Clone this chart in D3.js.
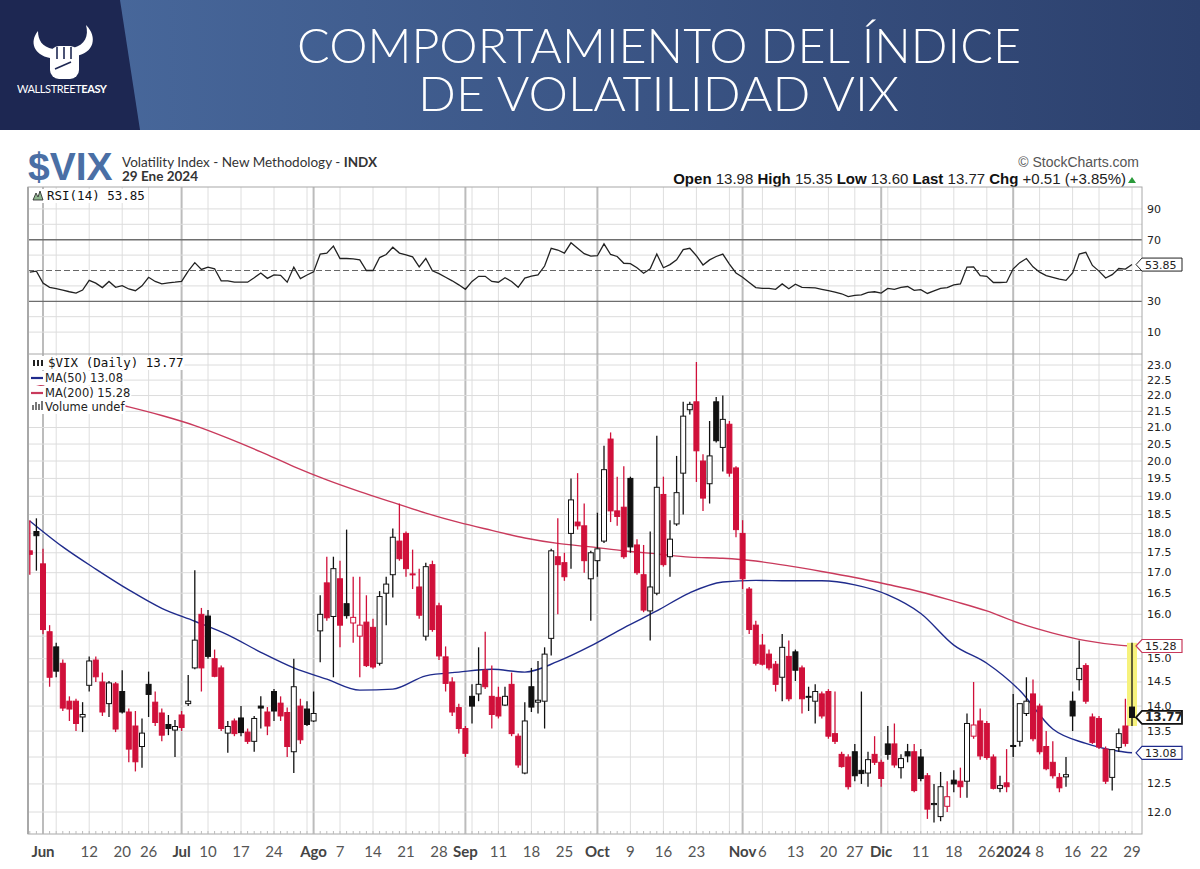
<!DOCTYPE html>
<html>
<head>
<meta charset="utf-8" />
<title>Comportamiento del índice de volatilidad VIX</title>
<script src="https://d3js.org/d3.v7.min.js"></script>
<style>
  body { margin: 0; background: #fff; }
  svg { display: block; }
  .mono { font-family: "DejaVu Sans Mono", monospace; }
  .axis { font-family: "DejaVu Sans", Verdana, sans-serif; font-size: 11px; fill: #222; }
</style>
</head>
<body>
<svg id="chart" width="1200" height="869"></svg>
<script>
// ---- data ----
var dates = [
  "2023-05-30","2023-05-31",
  "2023-06-01","2023-06-02","2023-06-05","2023-06-06","2023-06-07","2023-06-08","2023-06-09","2023-06-12","2023-06-13","2023-06-14","2023-06-15","2023-06-16","2023-06-20","2023-06-21","2023-06-22","2023-06-23","2023-06-26","2023-06-27","2023-06-28","2023-06-29","2023-06-30",
  "2023-07-03","2023-07-05","2023-07-06","2023-07-07","2023-07-10","2023-07-11","2023-07-12","2023-07-13","2023-07-14","2023-07-17","2023-07-18","2023-07-19","2023-07-20","2023-07-21","2023-07-24","2023-07-25","2023-07-26","2023-07-27","2023-07-28","2023-07-31",
  "2023-08-01","2023-08-02","2023-08-03","2023-08-04","2023-08-07","2023-08-08","2023-08-09","2023-08-10","2023-08-11","2023-08-14","2023-08-15","2023-08-16","2023-08-17","2023-08-18","2023-08-21","2023-08-22","2023-08-23","2023-08-24","2023-08-25","2023-08-28","2023-08-29","2023-08-30","2023-08-31",
  "2023-09-01","2023-09-05","2023-09-06","2023-09-07","2023-09-08","2023-09-11","2023-09-12","2023-09-13","2023-09-14","2023-09-15","2023-09-18","2023-09-19","2023-09-20","2023-09-21","2023-09-22","2023-09-25","2023-09-26","2023-09-27","2023-09-28","2023-09-29",
  "2023-10-02","2023-10-03","2023-10-04","2023-10-05","2023-10-06","2023-10-09","2023-10-10","2023-10-11","2023-10-12","2023-10-13","2023-10-16","2023-10-17","2023-10-18","2023-10-19","2023-10-20","2023-10-23","2023-10-24","2023-10-25","2023-10-26","2023-10-27","2023-10-30","2023-10-31",
  "2023-11-01","2023-11-02","2023-11-03","2023-11-06","2023-11-07","2023-11-08","2023-11-09","2023-11-10","2023-11-13","2023-11-14","2023-11-15","2023-11-16","2023-11-17","2023-11-20","2023-11-21","2023-11-22","2023-11-24","2023-11-27","2023-11-28","2023-11-29","2023-11-30",
  "2023-12-01","2023-12-04","2023-12-05","2023-12-06","2023-12-07","2023-12-08","2023-12-11","2023-12-12","2023-12-13","2023-12-14","2023-12-15","2023-12-18","2023-12-19","2023-12-20","2023-12-21","2023-12-22","2023-12-26","2023-12-27","2023-12-28","2023-12-29",
  "2024-01-02","2024-01-03","2024-01-04","2024-01-05","2024-01-08","2024-01-09","2024-01-10","2024-01-11","2024-01-12","2024-01-16","2024-01-17","2024-01-18","2024-01-19","2024-01-22","2024-01-23","2024-01-24","2024-01-25","2024-01-26","2024-01-29"
];

var open = [17.55, 18.05,
  17.22, 15.60, 15.26, 14.90, 14.10, 14.10, 13.78, 14.43, 14.97, 14.50, 14.05, 14.46, 14.30, 13.88, 13.60, 13.20, 14.45, 14.08, 13.86, 13.63, 13.52,
  13.82, 14.05, 14.80, 16.00, 15.96, 15.00, 14.80, 13.46, 13.70, 13.76, 13.48, 13.30, 14.00, 13.88, 14.30, 14.06, 13.87, 13.10, 14.00, 13.94,
  13.70, 15.62, 16.75, 15.95, 16.85, 16.25, 15.80, 15.50, 15.82, 15.70, 14.90, 16.50, 16.95, 17.80, 18.00, 16.97, 16.65, 15.50, 17.20, 16.20, 15.04, 14.50, 13.97,
  13.55, 14.20, 14.25, 14.75, 14.20, 14.18, 14.02, 14.45, 13.40, 12.70, 14.40, 14.08, 14.10, 15.45, 17.40, 17.25, 18.00, 18.30, 18.20, 16.85,
  17.30, 17.80, 20.65, 18.60, 18.70, 19.50, 17.70, 16.95, 16.08, 16.50, 19.05, 17.40, 18.25, 19.65, 21.55, 21.80, 20.00, 19.35, 21.80, 20.40, 21.10, 19.80,
  18.00, 16.60, 15.75, 15.30, 15.10, 14.88, 14.60, 15.05, 15.15, 14.80, 14.18, 14.10, 14.25, 14.30, 13.45, 13.05, 13.00, 13.10, 12.75, 12.70, 13.05,
  12.90, 13.25, 13.25, 12.80, 13.10, 13.10, 13.00, 12.65, 12.13, 11.92, 12.10, 12.57, 12.55, 12.55, 13.40, 13.70, 13.65, 13.00, 12.42, 12.52,
  13.22, 13.30, 13.85, 14.25, 14.00, 13.20, 12.90, 12.62, 12.63, 14.10, 14.55, 14.85, 13.78, 13.75, 13.15, 12.62, 13.18, 13.60, 13.98];

var high = [18.35, 18.40,
  17.60, 15.75, 15.35, 14.98, 14.20, 14.15, 14.08, 15.05, 15.05, 14.70, 14.52, 14.50, 14.75, 13.95, 13.90, 13.75, 14.72, 14.30, 13.95, 13.82, 13.72,
  13.90, 14.65, 17.06, 16.15, 16.10, 15.20, 14.85, 13.70, 13.75, 14.00, 13.55, 13.80, 14.20, 13.98, 14.35, 14.20, 13.97, 15.00, 14.15, 14.10,
  14.30, 16.45, 17.40, 17.40, 17.30, 18.10, 16.90, 16.90, 16.45, 15.90, 16.55, 16.90, 18.13, 18.80, 18.05, 17.58, 17.10, 17.25, 17.30, 16.27, 15.27, 14.60, 14.05,
  13.60, 14.45, 15.25, 15.60, 14.85, 14.40, 14.40, 14.70, 13.45, 14.08, 14.80, 14.95, 15.25, 17.60, 18.40, 17.50, 19.50, 19.65, 18.80, 17.55,
  18.55, 20.45, 20.85, 19.55, 19.85, 19.55, 17.85, 17.70, 18.05, 20.75, 19.55, 18.35, 20.15, 21.80, 21.80, 23.10, 20.20, 21.20, 21.95, 22.00, 21.20, 19.85,
  18.35, 16.65, 15.85, 15.55, 15.20, 14.95, 15.55, 15.40, 15.20, 14.85, 14.40, 14.45, 14.30, 14.35, 14.30, 13.10, 13.05, 13.25, 14.30, 13.10, 13.40,
  12.95, 13.60, 13.65, 13.05, 13.25, 13.25, 13.15, 12.70, 12.50, 12.72, 12.55, 12.75, 12.80, 13.85, 14.50, 13.95, 13.70, 13.05, 12.65, 13.15,
  14.25, 14.05, 14.60, 14.55, 14.05, 13.50, 13.30, 12.70, 13.00, 14.30, 15.40, 14.90, 13.85, 13.80, 13.20, 13.15, 13.55, 14.15, 15.35];

var low = [16.95, 17.05,
  15.55, 14.40, 14.60, 13.90, 13.70, 13.50, 13.48, 14.30, 14.50, 13.80, 13.78, 13.48, 13.85, 12.90, 12.73, 12.80, 13.78, 13.60, 13.30, 13.42, 13.00,
  13.50, 14.00, 14.77, 14.30, 15.00, 14.60, 13.50, 13.08, 13.40, 13.40, 13.25, 13.10, 13.55, 13.42, 13.70, 13.70, 13.00, 12.70, 13.25, 13.60,
  13.68, 14.92, 15.85, 14.60, 15.25, 15.90, 15.35, 14.60, 14.82, 14.78, 14.85, 15.75, 16.40, 17.30, 16.90, 16.60, 15.90, 15.40, 15.60, 14.97, 14.30, 13.80, 13.45,
  13.00, 13.65, 14.10, 14.35, 13.55, 13.75, 14.00, 13.40, 12.80, 12.68, 13.88, 13.85, 13.55, 15.07, 16.00, 16.80, 17.10, 18.10, 17.00, 15.85,
  16.90, 17.75, 18.30, 18.20, 17.35, 17.50, 16.95, 16.05, 15.40, 16.45, 17.15, 16.90, 18.20, 18.50, 21.40, 19.40, 18.60, 18.80, 20.55, 19.70, 19.55, 17.90,
  16.60, 15.55, 14.85, 14.85, 14.75, 14.30, 14.10, 14.10, 14.52, 13.85, 13.90, 13.65, 13.75, 13.35, 13.25, 12.80, 12.40, 12.55, 12.50, 12.45, 12.85,
  12.45, 12.95, 12.80, 12.60, 12.90, 12.35, 12.55, 11.88, 11.82, 11.84, 12.00, 12.35, 12.25, 12.25, 13.35, 12.95, 12.95, 12.40, 12.35, 12.35,
  13.00, 13.20, 13.80, 13.30, 13.05, 12.75, 12.60, 12.35, 12.45, 13.50, 14.32, 14.05, 13.25, 13.15, 12.50, 12.38, 13.10, 13.20, 13.60];

var close = [17.46, 17.94,
  15.65, 14.60, 14.73, 13.96, 13.94, 13.65, 13.83, 14.95, 14.61, 13.88, 14.48, 13.54, 13.88, 13.15, 12.91, 13.46, 14.24, 13.67, 13.42, 13.55, 13.59,
  13.57, 14.10, 15.41, 14.80, 15.05, 14.62, 13.55, 13.59, 13.45, 13.47, 13.30, 13.75, 13.96, 13.60, 13.90, 13.80, 13.20, 14.40, 13.33, 13.63,
  13.85, 16.00, 15.92, 17.10, 15.75, 15.97, 15.93, 15.75, 14.85, 14.82, 16.42, 16.72, 17.90, 17.35, 17.10, 16.95, 15.98, 17.15, 15.65, 15.06, 14.47, 13.88, 13.55,
  13.07, 14.00, 14.45, 14.40, 13.83, 13.80, 14.20, 13.45, 12.85, 13.70, 13.98, 14.12, 15.10, 17.55, 17.20, 16.90, 18.90, 18.20, 17.30, 17.50,
  17.60, 19.75, 18.60, 18.45, 17.40, 17.65, 17.00, 16.10, 16.65, 19.25, 17.20, 17.85, 19.10, 21.35, 21.72, 20.30, 18.95, 20.15, 20.60, 21.25, 19.65, 18.10,
  16.85, 15.65, 14.90, 14.88, 14.80, 14.45, 15.25, 14.15, 14.75, 14.15, 14.20, 14.30, 13.80, 13.40, 13.30, 12.82, 12.45, 12.65, 12.69, 12.95, 12.90,
  12.60, 13.05, 12.85, 12.97, 13.02, 12.38, 12.60, 12.05, 12.15, 12.45, 12.27, 12.50, 12.45, 13.65, 13.62, 13.02, 12.99, 12.42, 12.47, 12.45,
  13.20, 14.05, 14.10, 13.35, 13.10, 12.78, 12.65, 12.43, 12.67, 13.80, 14.79, 14.10, 13.28, 13.19, 12.55, 13.14, 13.45, 13.26, 13.77];

var rsi = [48.9, 49.6, 41.8, 39.1, 38.2, 37.3, 36.2, 35.3, 37.3, 43.6, 41.8, 38.9,
  42.9, 39.1, 40.2, 38.0, 36.9, 40.0, 45.6, 42.9, 41.3, 42.0, 42.4, 42.9,
  49.6, 55.1, 50.7, 52.2, 51.1, 43.3, 43.3, 42.4, 42.4, 42.4, 45.3, 48.4,
  44.9, 47.1, 46.9, 42.4, 52.2, 44.7, 47.1, 49.1, 60.7, 61.3, 65.8, 57.8,
  57.8, 57.6, 56.9, 50.0, 50.0, 58.4, 60.4, 65.1, 61.3, 60.2, 58.9, 52.4,
  57.8, 49.8, 48.0, 45.6, 43.3, 40.7, 37.8, 42.9, 46.2, 46.2, 42.9, 42.4,
  45.3, 42.9, 39.1, 45.1, 46.4, 47.1, 52.9, 64.4, 63.3, 61.3, 68.0, 64.4, 60.9,
  59.3, 59.6, 67.3, 60.4, 59.1, 54.7, 54.4, 51.8, 48.2, 51.1, 60.7, 51.8,
  53.8, 56.9, 63.6, 64.4, 59.6, 53.6, 56.9, 59.1, 60.7, 54.2, 48.4, 45.6,
  42.2, 38.9, 38.4, 38.4, 37.8, 41.3, 38.2, 41.1, 39.1, 38.9, 38.7, 37.8,
  36.9, 36.0, 34.9, 33.1, 33.8, 34.2, 35.8, 36.2, 35.3, 38.4, 37.8, 39.1,
  39.6, 37.1, 37.6, 35.1, 36.7, 38.4, 38.9, 40.7, 41.3, 52.2, 52.4, 46.7,
  46.2, 42.2, 42.2, 42.4, 51.1, 55.1, 57.8, 52.4, 48.9, 46.7, 45.6, 44.4,
  43.6, 48.4, 60.7, 61.8, 53.3, 49.6, 45.1, 47.3, 51.3, 50.9, 53.85];

var maDates = ["2023-05-30","2023-06-06","2023-06-13","2023-06-21","2023-06-28","2023-07-06","2023-07-13","2023-07-20","2023-07-27",
  "2023-08-03","2023-08-10","2023-08-17","2023-08-24","2023-08-31","2023-09-08","2023-09-15","2023-09-22","2023-09-29",
  "2023-10-06","2023-10-13","2023-10-20","2023-10-27","2023-11-03","2023-11-10","2023-11-17","2023-11-27",
  "2023-12-04","2023-12-11","2023-12-18","2023-12-26","2024-01-03","2024-01-10","2024-01-18","2024-01-25","2024-01-29"];
var ma50 = [18.33, 17.65, 17.09, 16.58, 16.14, 15.84, 15.53, 15.14, 14.80, 14.56, 14.33, 14.35, 14.63, 14.71, 14.77, 14.71, 14.94, 15.28,
  15.69, 16.08, 16.51, 16.77, 16.81, 16.80, 16.80, 16.70, 16.46, 16.02, 15.30, 14.90, 14.32, 13.54, 13.26, 13.11, 13.08];
var ma200 = [22.41, 22.15, 21.89, 21.64, 21.37, 21.06, 20.68, 20.27, 19.84, 19.46, 19.13, 18.83, 18.54, 18.29, 18.08, 17.88, 17.74, 17.65,
  17.55, 17.47, 17.39, 17.36, 17.29, 17.17, 17.03, 16.88, 16.71, 16.53, 16.31, 16.08, 15.79, 15.57, 15.40, 15.30, 15.28];

var tickDates = ["2023-06-01","2023-06-12","2023-06-20","2023-06-26","2023-07-03","2023-07-10","2023-07-17","2023-07-24",
  "2023-08-01","2023-08-07","2023-08-14","2023-08-21","2023-08-28","2023-09-01","2023-09-11","2023-09-18","2023-09-25",
  "2023-10-02","2023-10-09","2023-10-16","2023-10-23","2023-11-01","2023-11-06","2023-11-13","2023-11-20","2023-11-27",
  "2023-12-01","2023-12-11","2023-12-18","2023-12-26","2024-01-02","2024-01-08","2024-01-16","2024-01-22","2024-01-29"];
var tickLabels = ["Jun","12","20","26","Jul","10","17","24","Ago","7","14","21","28","Sep","11","18","25",
  "Oct","9","16","23","Nov","6","13","20","27","Dic","11","18","26","2024","8","16","22","29"];
var extraGridDates = ["2023-06-05","2023-07-31","2023-09-05","2023-10-30","2023-12-04"];

var priceTicks = [12.0, 12.5, 13.0, 13.5, 14.0, 14.5, 15.0, 15.5, 16.0, 16.5, 17.0, 17.5, 18.0, 18.5, 19.0, 19.5, 20.0, 20.5, 21.0, 21.5, 22.0, 22.5, 23.0];
var rsiGrid = [10, 20, 40, 60, 80, 90];
var rsiTicks = [10, 30, 50, 70, 90];

// ---- layout ----
var W = 1200, H = 869;
var left = 28, right = 1142;
var rsiTop = 187, rsiBottom = 354, priceTop = 354, priceBottom = 834;
var RED = "#d0103a", BLACK = "#111", NAVY = "#1f2b8c", PINK = "#c93a5c";

var svg = d3.select("#chart");
var defs = svg.append("defs");

var x = d3.scaleLinear().domain([0, dates.length - 1]).range([29.8, 1132]);
var y = d3.scaleLog().domain([12, 23]).range([812, 365]);
var yr = d3.scaleLinear().domain([0, 100]).range([347.5, 193.5]);
function xd(d) { return x(dates.indexOf(d)); }
function isMonthStart(d) {
  var i = dates.indexOf(d);
  return i > 0 && dates[i].slice(5, 7) !== dates[i - 1].slice(5, 7);
}
var last = dates.length - 1;

// ---- header banner ----
var grad = defs.append("linearGradient").attr("id", "hdr").attr("x1", 0).attr("x2", 1);
grad.append("stop").attr("offset", "0%").attr("stop-color", "#4a6b9f");
grad.append("stop").attr("offset", "100%").attr("stop-color", "#2c406d");
svg.append("rect").attr("width", W).attr("height", 130).attr("fill", "url(#hdr)");
svg.append("path").attr("d", "M0,0H120L140,130H0Z").attr("fill", "#1d2752");

// logo (bull horns + fist)
var logo = svg.append("g").attr("fill", "#fff");
logo.append("path").attr("d", "M50,58 C34,55 29,42 38,31 C38,40 42,47 53,49 Z");
logo.append("path").attr("d", "M76,56 C94,53 98,37 86,25 C89,36 85,45 73,48 Z");
logo.append("rect").attr("x", 50).attr("y", 46).attr("width", 29).attr("height", 33).attr("rx", 9);
logo.append("g").attr("stroke", "#1d2752").attr("stroke-width", 1.6)
  .selectAll("line").data([57, 64, 71]).enter().append("line")
  .attr("x1", function(d) { return d; }).attr("x2", function(d) { return d; })
  .attr("y1", 47).attr("y2", 59);
logo.append("path").attr("d", "M55,69 L71,62").attr("stroke", "#1d2752").attr("stroke-width", 1.6).attr("fill", "none");
var brand = svg.append("text").attr("x", 17).attr("y", 93).attr("fill", "#fff").attr("textLength", 90)
  .style("font-family", "Lato, 'Open Sans', sans-serif").style("font-size", "11px");
brand.append("tspan").text("WALLSTREET");
brand.append("tspan").style("font-weight", "bold").text("EASY");

svg.append("text").attr("x", 297).attr("y", 63).attr("textLength", 724).attr("lengthAdjust", "spacingAndGlyphs")
  .attr("fill", "#fff").style("font-family", "Lato, 'Open Sans', sans-serif").style("font-weight", 300).style("font-size", "48px")
  .text("COMPORTAMIENTO DEL ÍNDICE");
svg.append("text").attr("x", 418).attr("y", 111).attr("textLength", 481).attr("lengthAdjust", "spacingAndGlyphs")
  .attr("fill", "#fff").style("font-family", "Lato, 'Open Sans', sans-serif").style("font-weight", 300).style("font-size", "48px")
  .text("DE VOLATILIDAD VIX");

// ---- chart title block ----
svg.append("text").attr("x", 28).attr("y", 180).attr("fill", "#4a6fa5")
  .style("font-family", "'Liberation Sans', Arial, sans-serif").style("font-weight", "bold").style("font-size", "39px")
  .text("$VIX");
var sub = svg.append("text").attr("x", 122).attr("y", 167).attr("fill", "#333")
  .style("font-family", "Lato, sans-serif").style("font-size", "13.5px");
sub.append("tspan").text("Volatility Index - New Methodology - ");
sub.append("tspan").style("font-weight", "bold").text("INDX");
svg.append("text").attr("x", 122).attr("y", 181).attr("fill", "#333")
  .style("font-family", "Lato, sans-serif").style("font-size", "13.5px").style("font-weight", "bold")
  .text("29 Ene 2024");
svg.append("text").attr("x", 1139).attr("y", 167).attr("text-anchor", "end").attr("fill", "#555")
  .style("font-family", "'Liberation Sans', Arial, sans-serif").style("font-size", "14px")
  .text("© StockCharts.com");

var ohlcLabels = ["Open", "High", "Low", "Last", "Chg"];
var ohlcValues = ["13.98", "15.35", "13.60", "13.77", "+0.51 (+3.85%)"];
var ohlc = svg.append("text").attr("x", 1126).attr("y", 184).attr("text-anchor", "end").attr("fill", "#111")
  .style("font-family", "'Liberation Sans', Arial, sans-serif").style("font-size", "15px");
ohlcLabels.forEach(function(l, i) {
  ohlc.append("tspan").style("font-weight", "bold").text((i ? "  " : "") + l + " ");
  ohlc.append("tspan").attr("fill", "#222").text(ohlcValues[i]);
});
svg.append("path").attr("d", "M1128,183 L1136,183 L1132,177 Z").attr("fill", "#2a9a3a");

// ---- panel backgrounds, grid ----
svg.append("rect").attr("x", left).attr("y", rsiTop).attr("width", right - left).attr("height", priceBottom - rsiTop).attr("fill", "#fff");

var grid = svg.append("g");
var gridDates = tickDates.concat(extraGridDates);
grid.selectAll("line.v").data(gridDates).enter().append("line")
  .attr("x1", xd).attr("x2", xd).attr("y1", rsiTop).attr("y2", priceBottom)
  .attr("stroke", function(d) { return isMonthStart(d) ? "#bcbcbc" : "#dedede"; })
  .attr("stroke-width", function(d) { return isMonthStart(d) ? 2 : 1; });

grid.selectAll("line.p").data(priceTicks).enter().append("line")
  .attr("x1", left).attr("x2", right).attr("y1", y).attr("y2", y)
  .attr("stroke", "#dcdcdc");
grid.selectAll("line.r").data(rsiGrid).enter().append("line")
  .attr("x1", left).attr("x2", right).attr("y1", yr).attr("y2", yr)
  .attr("stroke", "#dcdcdc");
svg.append("line").attr("x1", left).attr("x2", right).attr("y1", yr(70)).attr("y2", yr(70)).attr("stroke", "#6e6e6e").attr("stroke-width", 1.6);
svg.append("line").attr("x1", left).attr("x2", right).attr("y1", yr(30)).attr("y2", yr(30)).attr("stroke", "#6e6e6e").attr("stroke-width", 1.2);
svg.append("line").attr("x1", left).attr("x2", right).attr("y1", yr(50)).attr("y2", yr(50)).attr("stroke", "#666")
  .attr("stroke-dasharray", "6,3");

// ---- RSI line ----
defs.append("clipPath").attr("id", "clipR").append("rect")
  .attr("x", left).attr("y", rsiTop).attr("width", right - left).attr("height", rsiBottom - rsiTop);
svg.append("path").datum(rsi).attr("clip-path", "url(#clipR)")
  .attr("fill", "none").attr("stroke", "#222").attr("stroke-width", 1.3)
  .attr("d", d3.line().x(function(d, i) { return x(i); }).y(function(d) { return yr(d); }));

// ---- price panel ----
defs.append("clipPath").attr("id", "clipP").append("rect")
  .attr("x", left).attr("y", priceTop).attr("width", right - left).attr("height", priceBottom - priceTop);
var price = svg.append("g").attr("clip-path", "url(#clipP)");

var maLine = d3.line().curve(d3.curveMonotoneX)
  .x(function(d) { return xd(d[0]); }).y(function(d) { return y(d[1]); });
price.append("path").datum(d3.zip(maDates, ma200)).attr("fill", "none").attr("stroke", PINK).attr("stroke-width", 1.4).attr("d", maLine);
price.append("path").datum(d3.zip(maDates, ma50)).attr("fill", "none").attr("stroke", NAVY).attr("stroke-width", 1.4).attr("d", maLine);

// highlight of the last bar's range
price.append("rect").attr("x", x(last) - 5).attr("width", 10)
  .attr("y", y(high[last])).attr("height", y(low[last]) - y(high[last]))
  .attr("fill", "#f6f27c");

var bars = dates.map(function(d, i) {
  return { i: i, o: open[i], h: high[i], l: low[i], c: close[i],
           col: (i === 0 || close[i] < close[i - 1]) ? RED : BLACK };
});
var candle = price.selectAll("g.c").data(bars).enter().append("g");
candle.append("line")
  .attr("x1", function(d) { return x(d.i); }).attr("x2", function(d) { return x(d.i); })
  .attr("y1", function(d) { return y(d.h); }).attr("y2", function(d) { return y(d.l); })
  .attr("stroke", function(d) { return d.col; }).attr("stroke-width", 1.3);
candle.append("rect")
  .attr("x", function(d) { return x(d.i) - 2.5; }).attr("width", 5)
  .attr("y", function(d) { return y(Math.max(d.o, d.c)); })
  .attr("height", function(d) { return Math.max(1, y(Math.min(d.o, d.c)) - y(Math.max(d.o, d.c))); })
  .attr("fill", function(d) { return d.c < d.o ? d.col : "#fff"; })
  .attr("stroke", function(d) { return d.col; }).attr("stroke-width", 1);

// ---- borders ----
svg.append("rect").attr("x", left).attr("y", rsiTop).attr("width", right - left).attr("height", priceBottom - rsiTop)
  .attr("fill", "none").attr("stroke", "#a8a8a8").attr("stroke-width", 1);
svg.append("line").attr("x1", left).attr("x2", left).attr("y1", rsiTop).attr("y2", priceBottom).attr("stroke", "#a8a8a8").attr("stroke-width", 2);
svg.append("line").attr("x1", left).attr("x2", right).attr("y1", rsiBottom).attr("y2", rsiBottom).attr("stroke", "#a8a8a8");
svg.append("g").selectAll("line").data(dates).enter().append("line")
  .attr("x1", function(d, i) { return x(i); }).attr("x2", function(d, i) { return x(i); })
  .attr("y1", priceBottom - 3).attr("y2", priceBottom).attr("stroke", "#bbb");

// ---- legends ----
function legendRow(g, xPos, yPos, txt, cls, color, size) {
  var t = g.append("text").attr("x", xPos).attr("y", yPos).attr("fill", color)
    .attr("class", cls).style("font-size", size).text(txt);
  var w = t.node().getComputedTextLength();
  g.insert("rect", "text").attr("x", 29).attr("y", yPos - 11).attr("width", xPos - 29 + w + 1).attr("height", 14).attr("fill", "#fff");
  return t;
}
var lg = svg.append("g");
legendRow(lg, 47, 200, "RSI(14) 53.85", "mono", "#111", "12.5px");
lg.append("path").attr("d", "M33,200 L36,193 L38,197 L40,191 L43,200 Z").attr("fill", "#8fb58f").attr("stroke", "#222").attr("stroke-width", 0.8);

legendRow(lg, 48, 367, "$VIX (Daily) 13.77", "mono", "#111", "12.5px");
legendRow(lg, 45, 382, "MA(50) 13.08", "axis", NAVY, "11.5px");
legendRow(lg, 45, 397, "MA(200) 15.28", "axis", PINK, "11.5px");
legendRow(lg, 45, 411, "Volume undef", "axis", "#555", "11.5px");
lg.selectAll("rect.ic").data([33, 37, 41]).enter().append("rect")
  .attr("x", function(d) { return d; }).attr("y", 360).attr("width", 2).attr("height", 6).attr("fill", "#222");
lg.append("line").attr("x1", 31).attr("x2", 43).attr("y1", 378).attr("y2", 378).attr("stroke", NAVY).attr("stroke-width", 2.2);
lg.append("line").attr("x1", 31).attr("x2", 43).attr("y1", 393).attr("y2", 393).attr("stroke", PINK).attr("stroke-width", 2.2);
lg.selectAll("rect.vb").data([[32, 5], [35, 8], [38, 6], [41, 9]]).enter().append("rect")
  .attr("x", function(d) { return d[0]; }).attr("y", function(d) { return 410 - d[1]; })
  .attr("width", 2).attr("height", function(d) { return d[1]; }).attr("fill", "#777");

// ---- right axes (labels under a value box are left out, as in the source chart) ----
var priceBoxes = [y(ma200[ma200.length - 1]), y(close[last]), y(ma50[ma50.length - 1])];
var rsiBoxes = [yr(rsi[last])];
function clear(boxes) {
  return function(v) { return boxes.every(function(b) { return Math.abs(b - v) > 11; }); };
}
svg.append("g").selectAll("text").data(priceTicks.filter(function(v) { return clear(priceBoxes)(y(v)); }))
  .enter().append("text").attr("class", "axis")
  .attr("x", 1147).attr("y", function(d) { return y(d) + 3.5; }).text(d3.format(".1f"));
svg.append("g").selectAll("text").data(rsiTicks.filter(function(v) { return clear(rsiBoxes)(yr(v)); }))
  .enter().append("text").attr("class", "axis")
  .attr("x", 1147).attr("y", function(d) { return yr(d) + 4; }).text(function(d) { return d; });

function valueBox(yc, txt, color, bold, sw) {
  svg.append("path").attr("d", "M1136," + yc + " L1142," + (yc - 6.5) + " H1182 V" + (yc + 6.5) + " H1142 Z")
    .attr("fill", "#fff").attr("stroke", color).attr("stroke-width", sw);
  svg.append("text").attr("class", "axis").attr("x", 1145).attr("y", yc + 4)
    .style("font-weight", bold ? "bold" : "normal").style("font-size", bold ? "12px" : "11px").text(txt);
}
valueBox(yr(rsi[last]), "53.85", "#222", false, 1);
valueBox(y(ma200[ma200.length - 1]), "15.28", PINK, false, 1.2);
valueBox(y(close[last]), "13.77", "#111", true, 1.8);
valueBox(y(ma50[ma50.length - 1]), "13.08", NAVY, false, 1.2);

// ---- bottom date axis ----
svg.append("g").selectAll("text").data(tickDates).enter().append("text")
  .attr("x", xd).attr("y", 857).attr("text-anchor", "middle")
  .style("font-family", "Lato, 'Open Sans', sans-serif").style("font-size", "15px")
  .style("font-weight", function(d) { return isMonthStart(d) ? "bold" : "normal"; })
  .attr("fill", function(d) { return isMonthStart(d) ? "#444" : "#555"; })
  .text(function(d, i) { return tickLabels[i]; });
</script>
</body>
</html>
